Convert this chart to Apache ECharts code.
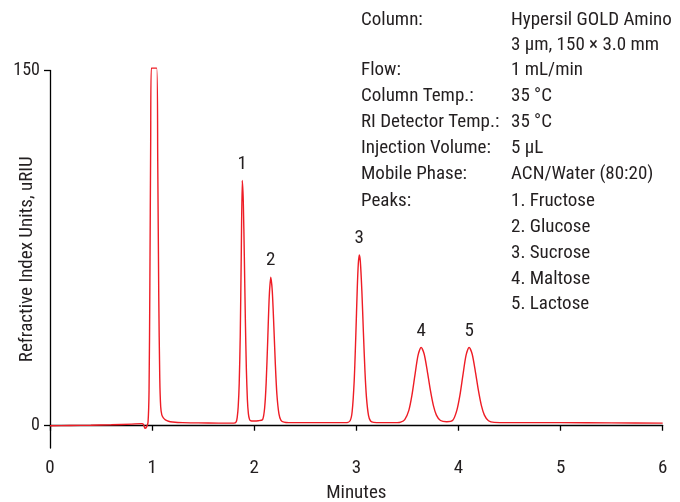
<!DOCTYPE html>
<html>
<head>
<meta charset="utf-8">
<script src="https://cdn.jsdelivr.net/npm/echarts@6/dist/echarts.min.js"></script>
<style>
  html, body { margin: 0; padding: 0; background: #fff; }
  #chart { width: 680px; height: 502px; }
</style>
</head>
<body>
<div id="chart"></div>
<script>
// Retention time (minutes) and detector response (uRIU) of the RI trace
const times = [
  0.00, 0.20, 0.40, 0.60, 0.80, 0.90, 0.915, 0.930, 0.945, 0.960,
  0.970, 0.978, 0.986, 0.992, 1.045, 1.055, 1.065, 1.075, 1.084, 1.095,
  1.110, 1.130, 1.160, 1.200, 1.300, 1.450, 1.650, 1.800,
  1.823, 1.833, 1.843, 1.853, 1.863, 1.873, 1.883, 1.893, 1.903, 1.913,
  1.923, 1.933, 1.943, 1.953, 1.963, 1.990, 2.040,
  2.082, 2.102, 2.117, 2.132, 2.147, 2.162, 2.177, 2.192, 2.207, 2.222,
  2.242, 2.262, 2.292, 2.340, 2.500, 2.700, 2.900,
  2.939, 2.959, 2.979, 2.994, 3.009, 3.019, 3.029, 3.039, 3.054, 3.069,
  3.084, 3.099, 3.119, 3.139, 3.170, 3.250, 3.400,
  3.434, 3.474, 3.514, 3.544, 3.574, 3.604, 3.634, 3.664, 3.694, 3.724,
  3.754, 3.784, 3.824, 3.885,
  3.944, 3.984, 4.014, 4.044, 4.074, 4.104, 4.134, 4.164, 4.194, 4.224,
  4.254, 4.294, 4.350, 4.500, 5.000, 5.500, 6.000
];
const signal = [
  0.0, 0.1, 0.2, 0.4, 0.7, 0.9, 0.6, -1.1, -0.6, 1.5,
  15.0, 60.0, 120.0, 151.0, 151.0, 112.0, 55.0, 20.0, 8.0, 4.6,
  3.3, 2.5, 1.9, 1.6, 1.3, 1.2, 1.1, 1.1,
  1.6, 3.4, 8.0, 18.0, 38.0, 72.0, 103.6, 94.5, 71.5, 45.0,
  23.8, 11.0, 5.0, 2.8, 2.2, 2.0, 2.1,
  2.6, 7.6, 18.3, 36.0, 54.5, 62.7, 56.7, 42.0, 25.7, 13.2,
  5.0, 2.3, 1.5, 1.3, 1.3, 1.3, 1.3,
  2.1, 6.0, 19.0, 37.1, 58.0, 68.3, 72.1, 69.4, 56.9, 39.5,
  23.3, 12.0, 4.4, 2.0, 1.4, 1.3, 1.3,
  1.5, 2.6, 6.5, 12.8, 21.5, 29.7, 33.1, 30.3, 23.3, 15.2,
  8.6, 4.5, 2.2, 1.7,
  2.3, 6.5, 12.8, 21.5, 29.7, 33.1, 30.3, 23.3, 15.2, 8.6,
  4.5, 2.1, 1.4, 1.3, 1.3, 1.2, 1.1
];

// Peak identification labels
const peakNames = ['1', '2', '3', '4', '5'];
const peakTimes = [1.883, 2.162, 3.029, 3.634, 4.104];
const peakHeights = [103.6, 62.7, 72.1, 33.1, 33.1];

// Axis ticks
const xTicks = [0, 1, 2, 3, 4, 5, 6];
const yTicks = [0, 150];

// Method conditions listed at top right
const condLabels = ['Column:', '', 'Flow:', 'Column Temp.:', 'RI Detector Temp.:',
  'Injection Volume:', 'Mobile Phase:', 'Peaks:', '', '', '', ''];
const condValues = ['Hypersil GOLD Amino', '3 \u00b5m, 150 \u00d7 3.0 mm', '1 mL/min',
  '35 \u00b0C', '35 \u00b0C', '5 \u00b5L', 'ACN/Water (80:20)', '1. Fructose',
  '2. Glucose', '3. Sucrose', '4. Maltose', '5. Lactose'];

const FONT = '"Liberation Sans Narrow", "Roboto Condensed", "Liberation Sans", Arial, sans-serif';
const TXT = '#231f20';
const RED = '#ee1c25';

const chart = echarts.init(document.getElementById('chart'), null, { renderer: 'canvas' });

const graphic = [];
const lineYs = [22, 47, 72, 98, 124, 150, 176, 203, 229, 255, 281, 306];
condValues.forEach(function (v, i) {
  if (condLabels[i]) {
    graphic.push({ type: 'text', left: 361, top: lineYs[i] - 11,
      style: { text: condLabels[i], font: '19px ' + FONT, fill: TXT } });
  }
  graphic.push({ type: 'text', left: 511, top: lineYs[i] - 11,
    style: { text: v, font: '19px ' + FONT, fill: TXT } });
});

chart.setOption({
  animation: false,
  backgroundColor: '#fff',
  textStyle: { fontFamily: FONT },
  grid: { left: 50, right: 17.3, top: 70.5, bottom: 54, containLabel: false, outerBoundsMode: 'none' },
  xAxis: {
    type: 'value', min: 0, max: 6, interval: 1,
    name: 'Minutes', nameLocation: 'middle', nameGap: 36,
    nameTextStyle: { fontSize: 19, color: TXT, fontFamily: FONT },
    axisLine: { lineStyle: { color: '#000', width: 1.3 } },
    axisTick: { show: true, length: 5, lineStyle: { color: '#000', width: 1.3 } },
    axisLabel: { fontSize: 19, color: TXT, margin: 11, fontFamily: FONT,
      formatter: function (v) { return xTicks.indexOf(v) >= 0 ? String(v) : ''; } },
    splitLine: { show: false }
  },
  yAxis: {
    type: 'value', min: -9.4, max: 150,
    name: 'Refractive Index Units, uRIU', nameLocation: 'middle', nameGap: 13,
    nameMoveOverlap: false,
    nameTextStyle: { fontSize: 19, color: TXT, fontFamily: FONT },
    axisLine: { show: true, lineStyle: { color: '#000', width: 1.3 } },
    axisTick: { show: true, length: 6, customValues: yTicks, lineStyle: { color: '#000', width: 1.3 } },
    axisLabel: { fontSize: 18, color: TXT, margin: 10, customValues: yTicks, fontFamily: FONT },
    splitLine: { show: false }
  },
  graphic: graphic,
  series: [
    {
      type: 'line',
      data: times.map(function (t, i) { return [t, signal[i]]; }),
      showSymbol: false,
      smooth: 0.25,
      clip: false,
      lineStyle: { color: RED, width: 1.4 }
    },
    {
      type: 'scatter',
      data: peakTimes.map(function (t, i) { return { value: [t, peakHeights[i]], name: peakNames[i] }; }),
      symbolSize: 0,
      itemStyle: { opacity: 1 },
      label: { show: true, position: 'top', distance: 7, formatter: '{b}',
        fontSize: 19, color: TXT, fontFamily: FONT },
      silent: true
    }
  ]
});
</script>
</body>
</html>
